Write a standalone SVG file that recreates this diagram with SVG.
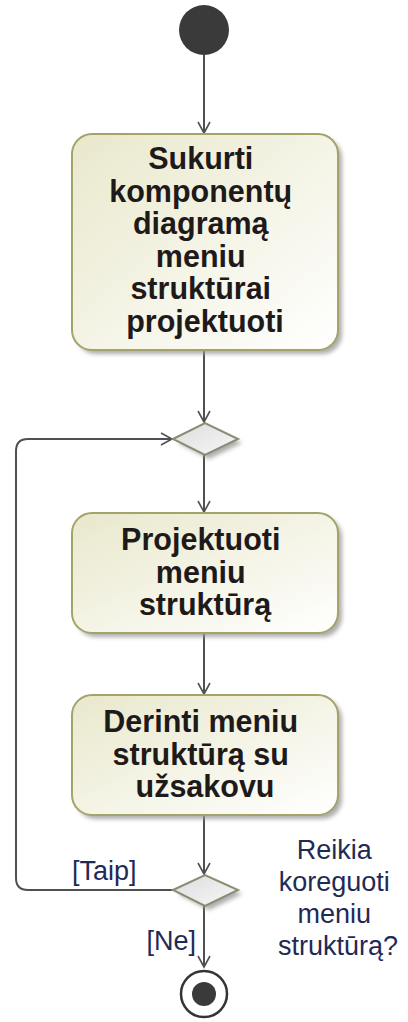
<svg xmlns="http://www.w3.org/2000/svg" width="408" height="1022" viewBox="0 0 408 1022">
  <defs>
    <linearGradient id="actFill" x1="0" y1="0" x2="1" y2="1">
      <stop offset="0" stop-color="#e9e8cc"/>
      <stop offset="1" stop-color="#ffffff"/>
    </linearGradient>
    <linearGradient id="decFill" x1="0" y1="0" x2="1" y2="1">
      <stop offset="0" stop-color="#dcdcdc"/>
      <stop offset="1" stop-color="#f8f8f8"/>
    </linearGradient>
    <filter id="shadow" x="-10%" y="-10%" width="130%" height="130%">
      <feGaussianBlur stdDeviation="2"/>
    </filter>
    <marker id="open" viewBox="0 0 14 14" refX="12" refY="7" markerWidth="14" markerHeight="14" markerUnits="userSpaceOnUse" orient="auto">
      <path d="M1,1 L12,7 L1,13" fill="none" stroke="#505050" stroke-width="1.6"/>
    </marker>
  </defs>
  <style>
    .act { fill: url(#actFill); stroke: #a3a36a; stroke-width: 2; }
    .shd { fill: #9a9a9a; filter: url(#shadow); opacity: 0.8; }
    .dec { fill: url(#decFill); stroke: #8c8c74; stroke-width: 2; }
    .lbl { font-family: "Liberation Sans", Arial, sans-serif; font-weight: bold; font-size: 30.5px; fill: #1f1a1a; text-anchor: middle; }
    .grd { font-family: "Liberation Sans", Arial, sans-serif; font-size: 27px; fill: #1f2a55; }
    .edge { fill: none; stroke: #505050; stroke-width: 2; }
  </style>

  <!-- control flows -->
  <g id="flows">
    <path class="edge" d="M204,55 V133" marker-end="url(#open)"/>
    <path class="edge" d="M204,350 V422" marker-end="url(#open)"/>
    <path class="edge" d="M204,455 V512" marker-end="url(#open)"/>
    <path class="edge" d="M204,633 V694" marker-end="url(#open)"/>
    <path class="edge" d="M204,815 V874" marker-end="url(#open)"/>
    <path class="edge" d="M204,906 V967" marker-end="url(#open)"/>
    <path class="edge" d="M173,890 H28 Q16,890 16,878 V451 Q16,439 28,439 H172" marker-end="url(#open)"/>
  </g>

  <!-- initial node -->
  <g id="initial">
    <circle cx="204" cy="30" r="25" fill="#3a3a3a"/>
  </g>

  <!-- action: create component diagram -->
  <g id="act-sukurti">
    <rect class="shd" x="76" y="138" width="266" height="216" rx="20"/>
    <rect class="act" x="72" y="134" width="266" height="216" rx="20"/>
    <text class="lbl">
      <tspan x="205" y="169">Sukurti</tspan>
      <tspan x="205" y="201.5">komponentų</tspan>
      <tspan x="205" y="234">diagramą</tspan>
      <tspan x="205" y="266.5">meniu</tspan>
      <tspan x="205" y="299">struktūrai</tspan>
      <tspan x="205" y="331.5">projektuoti</tspan>
    </text>
  </g>

  <!-- merge node -->
  <g id="merge">
    <path class="shd" d="M178,443 L209,427 L242,443 L209,459 Z"/>
    <path class="dec" d="M173,439 L205,423 L238,439 L205,455 Z"/>
  </g>

  <!-- action: design menu structure -->
  <g id="act-projektuoti">
    <rect class="shd" x="76" y="517" width="266" height="120" rx="20"/>
    <rect class="act" x="72" y="513" width="266" height="120" rx="20"/>
    <text class="lbl">
      <tspan x="205" y="550">Projektuoti</tspan>
      <tspan x="205" y="582.5">meniu</tspan>
      <tspan x="205" y="615">struktūrą</tspan>
    </text>
  </g>

  <!-- action: agree structure with customer -->
  <g id="act-derinti">
    <rect class="shd" x="76" y="699" width="266" height="120" rx="20"/>
    <rect class="act" x="72" y="695" width="266" height="120" rx="20"/>
    <text class="lbl">
      <tspan x="205" y="732">Derinti meniu</tspan>
      <tspan x="205" y="764.5">struktūrą su</tspan>
      <tspan x="205" y="797">užsakovu</tspan>
    </text>
  </g>

  <!-- decision node -->
  <g id="decision">
    <path class="shd" d="M178,894 L209,879 L242,894 L209,910 Z"/>
    <path class="dec" d="M173,890 L205,875 L238,890 L205,906 Z"/>
    <text class="grd" text-anchor="middle">
      <tspan x="338" y="859">Reikia</tspan>
      <tspan x="338" y="891">koreguoti</tspan>
      <tspan x="338" y="923">meniu</tspan>
      <tspan x="338" y="955">struktūrą?</tspan>
    </text>
  </g>

  <!-- guards -->
  <g id="guards">
    <text class="grd" x="72" y="880">[Taip]</text>
    <text class="grd" x="196" y="950" text-anchor="end">[Ne]</text>
  </g>

  <!-- final node -->
  <g id="final">
    <circle cx="204" cy="994" r="23" fill="#ffffff" stroke="#333333" stroke-width="2.5"/>
    <circle cx="204" cy="994" r="12" fill="#3a3a3a"/>
  </g>
</svg>
